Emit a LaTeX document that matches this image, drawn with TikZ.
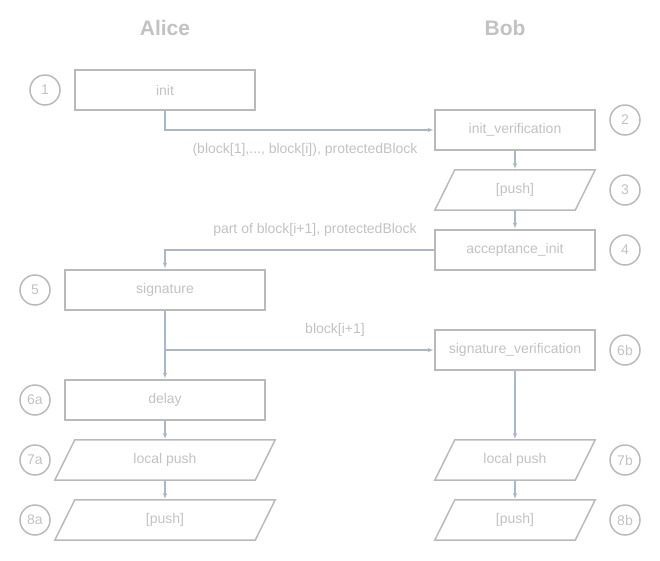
\documentclass[tikz,border=0pt]{standalone}
\usepackage{fontspec}
\setmainfont{Liberation Sans}
\usepackage{xcolor}
\usetikzlibrary{arrows.meta}

\begin{document}
\begin{tikzpicture}[x = 1pt, y = -1pt,
                    font = {\fontsize{14}{16}\selectfont}]

  \useasboundingbox (0, 0) rectangle (660, 560);

  % COLORS
  \definecolor{edgecolor_box}{rgb}{ 0.73,0.73,0.73 }
  \definecolor{textcolor_box}{rgb}{ 0.76,0.76,0.76 }
  \definecolor{edgecolor_flow}{rgb}{ 0.66,0.72,0.79 }

  % STYLES
  \tikzstyle{stepbox} = [draw=edgecolor_box, line width=1.5pt, text=textcolor_box, minimum height=40, inner sep=0pt]
  \tikzstyle{iobox} = [draw=none, text=textcolor_box, minimum width=160, minimum height=40, inner sep=0pt]
  \tikzstyle{ioline} = [draw=edgecolor_box, line width=1.5pt, line join=miter]
  \tikzstyle{stepnum} = [circle, draw=edgecolor_box, line width=1.5pt, text=textcolor_box, minimum size=30, inner sep=0pt]
  \tikzstyle{flow} = [draw=edgecolor_flow, line width=1.2pt, -{Latex[length=6pt, width=4.5pt]}, shorten >=0.5pt]
  \tikzstyle{flowlabel} = [text=textcolor_box]
  \tikzstyle{partytitle} = [text=textcolor_box, font={\fontsize{21}{24}\selectfont\bfseries}]


  % TITLES
  \node[partytitle] (alice) at (165, 28) {Alice};
  \node[partytitle] (bob) at (505, 28) {Bob};


  % DEF STEPS
  \node[stepbox, minimum width=180] (init) at (165, 90) {init};
  \node[stepbox, minimum width=160] (init_verification) at (515, 130) {init\_verification};
  \node[iobox] (push_b1) at (515, 190) {[push]};
  \node[stepbox, minimum width=160] (acceptance_init) at (515, 250) {acceptance\_init};
  \node[stepbox, minimum width=200] (signature) at (165, 290) {signature};
  \node[stepbox, minimum width=160] (signature_verification) at (515, 350) {signature\_verification};
  \node[stepbox, minimum width=200] (delay) at (165, 400) {delay};
  \node[iobox, minimum width=220] (local_push_a) at (165, 460) {local push};
  \node[iobox, minimum width=220] (push_a) at (165, 520) {[push]};
  \node[iobox] (local_push_b) at (515, 460) {local push};
  \node[iobox] (push_b2) at (515, 520) {[push]};


  % PARALLELOGRAMS
  \foreach \io in {push_b1, local_push_a, push_a, local_push_b, push_b2}
    \draw[ioline] ([xshift=20]\io.north west) -- (\io.north east)
      -- ([xshift=-20]\io.south east) -- (\io.south west) -- cycle;


  % STEP NUMBERS
  \node[stepnum] (n1) at (45, 90) {1};
  \node[stepnum] (n2) at (625, 120) {2};
  \node[stepnum] (n3) at (625, 190) {3};
  \node[stepnum] (n4) at (625, 250) {4};
  \node[stepnum] (n5) at (35, 290) {5};
  \node[stepnum] (n6b) at (625, 350) {6b};
  \node[stepnum] (n6a) at (35, 400) {6a};
  \node[stepnum] (n7a) at (35, 460) {7a};
  \node[stepnum] (n7b) at (625, 460) {7b};
  \node[stepnum] (n8a) at (35, 520) {8a};
  \node[stepnum] (n8b) at (625, 520) {8b};


  % FLOWS
  \draw[flow] (init.south) |- (init_verification.west);
  \draw[flow] (init_verification) -- (push_b1);
  \draw[flow] (push_b1) -- (acceptance_init);
  \draw[flow] (acceptance_init.west) -| (signature.north);
  \draw[flow] (signature) -- (delay);
  \coordinate (branch) at (signature.south |- signature_verification.west);
  \draw[flow] (branch) -- (signature_verification.west);
  \draw[flow] (delay) -- (local_push_a);
  \draw[flow] (local_push_a) -- (push_a);
  \draw[flow] (signature_verification) -- (local_push_b);
  \draw[flow] (local_push_b) -- (push_b2);


  % FLOW LABELS
  \node[flowlabel] (lbl_blocks) at (305, 150) {(block[1],..., block[i]), protectedBlock};
  \node[flowlabel] (lbl_part) at (315, 230) {part of block[i+1], protectedBlock};
  \node[flowlabel] (lbl_next) at (335, 330) {block[i+1]};

\end{tikzpicture}
\end{document}
